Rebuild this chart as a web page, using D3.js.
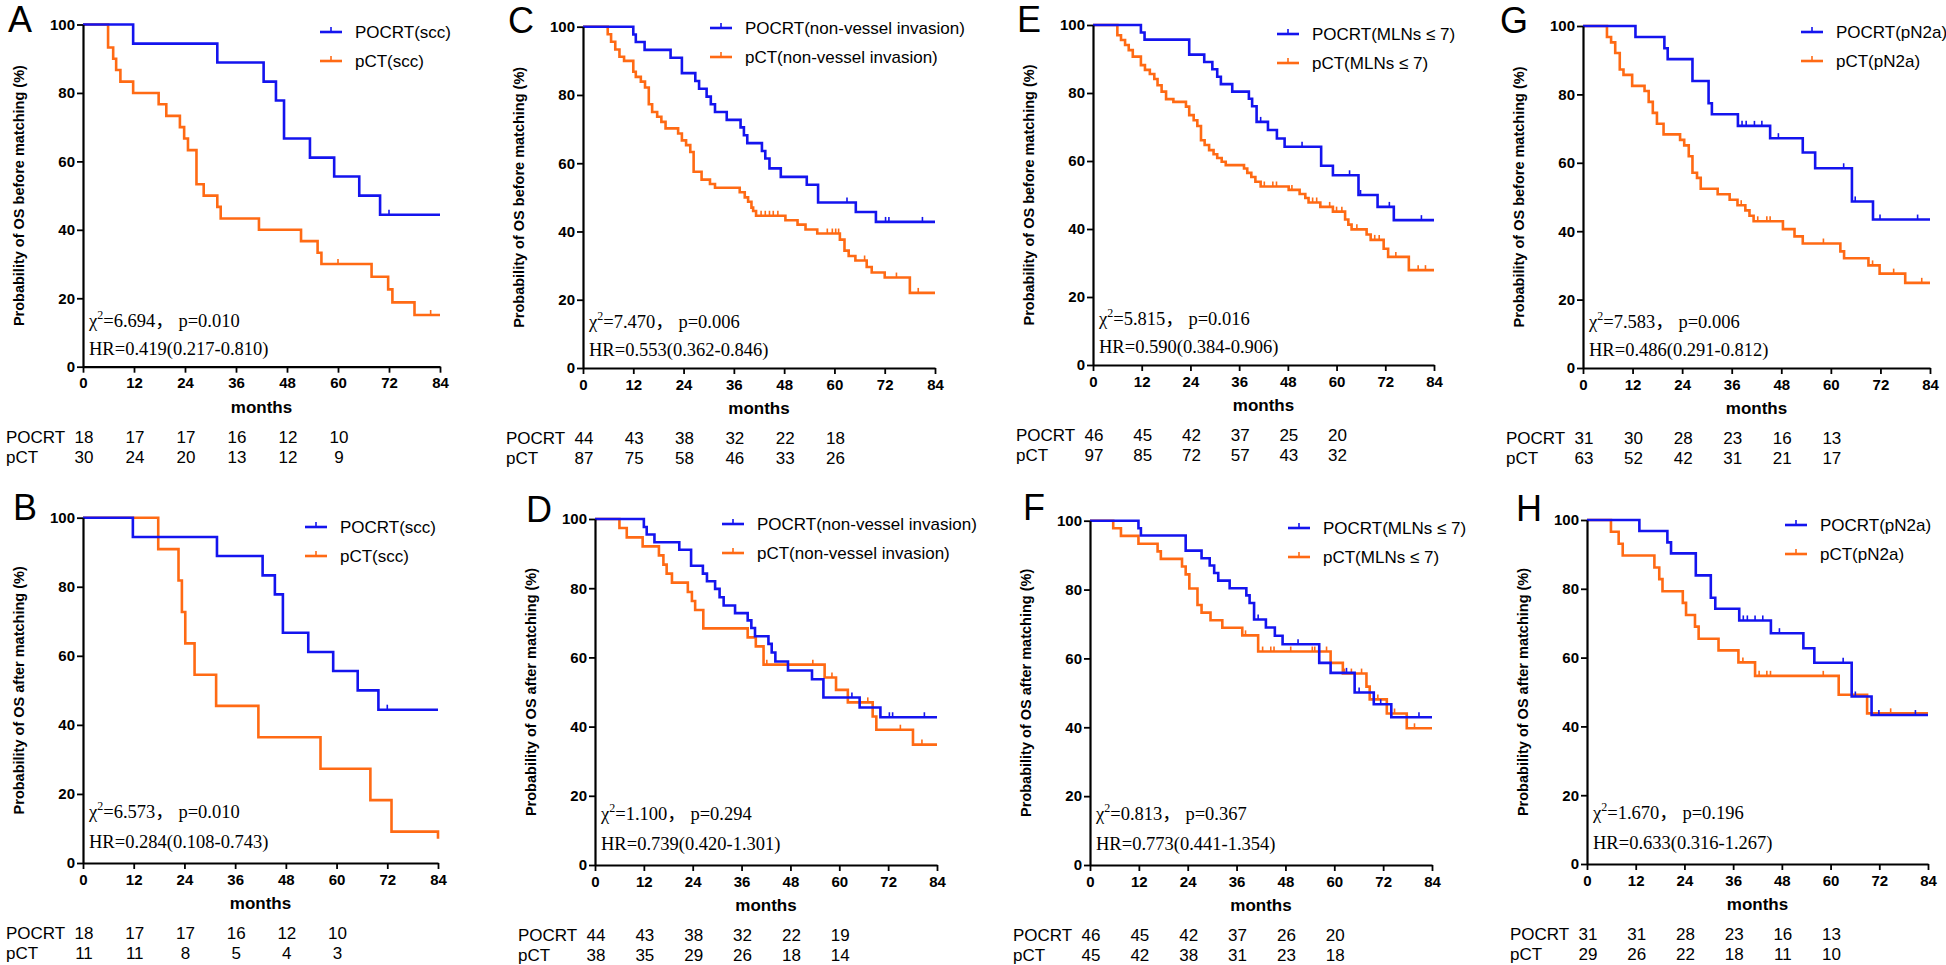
<!DOCTYPE html>
<html>
<head>
<meta charset="utf-8">
<script src="https://cdn.jsdelivr.net/npm/d3@7/dist/d3.min.js"></script>
<style>
  body { margin: 0; background: #fff; }
  svg { display: block; }
  text { white-space: pre; }
</style>
</head>
<body>
<div id="chart"></div>
<script>
// tick labels and risk table times
const monthTicks = [0, 12, 24, 36, 48, 60, 72, 84];
const probTicks = [0, 20, 40, 60, 80, 100];
const riskTimes = [0, 12, 24, 36, 48, 60];

// KM steps: [month, survival % after the drop]; censor times in months
const aPocrt = [[11.8, 94.4], [31.6, 88.9], [42.5, 83.3], [45.4, 77.8], [47.3, 66.7], [53.4, 61.1], [59.1, 55.6], [65, 50], [69.9, 44.4]];
const aPocrtCens = [72];
const aPct = [[5.9, 93.3], [7.1, 90], [7.8, 86.7], [8.8, 83.3], [11.8, 80], [17.8, 76.7], [19.6, 73.3], [22.8, 70], [23.8, 66.7], [24.7, 63.3], [26.7, 53.3], [28.4, 50], [31.6, 46.7], [32.4, 43.3], [41.4, 40], [51.3, 36.7], [55.2, 33.3], [56.1, 30], [67.9, 26.3], [71.8, 22.6], [72.8, 18.8], [78, 15.1]];
const aPctCens = [60, 81.8];

const bPocrt = [[11.8, 94.4], [31.7, 88.9], [42.5, 83.3], [45.4, 77.8], [47.3, 66.7], [53.3, 61.1], [59.2, 55.6], [65, 50], [69.9, 44.4]];
const bPocrtCens = [72];
const bPct = [[17.8, 90.9], [22.6, 81.8], [23.4, 72.7], [24.2, 63.6], [26.4, 54.5], [31.5, 45.5], [41.5, 36.4], [56.2, 27.3], [68, 18.2], [73, 9.1], [84, 7]];
const bPctCens = [];

const cPocrt = [[12, 97.7], [12.6, 95.5], [14.7, 93.2], [20.9, 90.9], [23.6, 86.4], [26.8, 84.1], [27.7, 81.8], [29.5, 79.5], [30.5, 77.3], [31.5, 75], [34.3, 72.7], [37.6, 70.5], [38.4, 68.2], [39.2, 65.9], [42.7, 63.6], [43.5, 61.4], [44.5, 58.5], [47.2, 56], [53.4, 53.7], [56.1, 48.5], [65.1, 45.7], [69.9, 42.8]];
const cPocrtCens = [63, 72.2, 73, 81];
const cPct = [[5.9, 97.8], [6.7, 95.6], [7.7, 93.3], [8.7, 91.2], [9.8, 90], [12, 86.8], [12.6, 85.3], [13.8, 83.9], [14.8, 82.2], [15.7, 77.3], [16.5, 75], [17.7, 73.6], [18.7, 72.1], [19.7, 70.2], [22.7, 68.7], [23.6, 66.7], [24.6, 65.3], [25.6, 63.3], [26.4, 57.5], [28.3, 55.2], [30.3, 53.9], [31.5, 52.8], [37.4, 51.5], [38.6, 50], [39.4, 48.7], [40.2, 47], [40.6, 46], [41.3, 44.6], [48.3, 43.3], [51.2, 42], [53.1, 40.6], [55.9, 39.4], [61.3, 37.6], [62.4, 34.4], [63.4, 32.8], [65, 31.5], [67.7, 29.6], [68.9, 28], [72, 26.5], [78, 22]];
const cPctCens = [42.5, 43.5, 44.5, 45.4, 46.5, 58.3, 59.5, 60.3, 61, 67.2, 74.8, 80];

const dPocrt = [[12, 97.7], [12.7, 95.5], [14.6, 93.3], [20.7, 91.1], [23.6, 86.5], [26.5, 84.2], [27.5, 82], [29.5, 79.8], [30.6, 77.4], [31.6, 75], [34.4, 72.8], [37.5, 70.7], [38.4, 68.5], [39.3, 66.1], [42.6, 63.9], [43.4, 61.4], [44.3, 58.8], [47.4, 56.2], [53.3, 53.7], [56.1, 48.4], [65, 45.5], [70.1, 42.7]];
const dPocrtCens = [63.1, 72.3, 73.1, 80.9];
const dPct = [[6, 97.4], [7.8, 94.7], [11.7, 92.1], [15.7, 89.5], [16.8, 86.8], [17.6, 84.2], [18.9, 81.6], [22.8, 78.9], [23.8, 76.3], [24.6, 73.7], [26.6, 68.4], [37.5, 65.8], [39.5, 63.2], [41.4, 57.9], [56.4, 54.2], [59.2, 50.6], [62.1, 47], [68.2, 42.9], [69.1, 39.1], [78.1, 34.8]];
const dPctCens = [42.2, 53.5, 58.2, 67, 75, 80.3];

const ePocrt = [[11.8, 97.8], [12.7, 95.7], [23.7, 91.3], [27.4, 89.1], [29.4, 87], [30.6, 84.8], [31.5, 82.6], [34.3, 80.4], [38.4, 78.3], [39.2, 76.1], [40.3, 71.5], [43.1, 69.1], [45.3, 66.6], [47.2, 64.2], [56.2, 58.6], [59.1, 55.8], [65.4, 50], [70.1, 46.5], [74.1, 42.6]];
const ePocrtCens = [41.3, 51.5, 63.2, 65.9, 73, 80.9];
const ePct = [[6, 97], [6.9, 95.6], [7.9, 94.1], [8.8, 92.6], [9.8, 90.7], [11.8, 88.2], [12.8, 86.8], [14, 85.6], [15.1, 84.1], [15.9, 82.3], [16.9, 80.4], [18, 78.2], [19.8, 77.4], [22.9, 76], [23.7, 73.5], [24.8, 72], [25.7, 70.3], [26.6, 66.1], [27.5, 64.7], [28.6, 63.2], [29.7, 62], [30.6, 60.9], [31.7, 59.8], [32.7, 58.8], [37.2, 57.8], [38, 56.5], [39, 55.3], [40, 53.9], [41.3, 52.5], [48.2, 51.5], [50.9, 50.3], [52.3, 49.1], [53.1, 47.8], [56, 46.5], [59.1, 45.1], [62.1, 42.8], [62.9, 41.3], [63.7, 39.9], [67.4, 38.4], [68.4, 36.8], [71.6, 34.2], [72.7, 31.8], [77.8, 27.9]];
const ePctCens = [42.2, 44.3, 45.2, 49, 54.1, 55.1, 58.3, 60, 61.3, 65, 69.4, 70.5, 74.6, 80.1, 81.9];

const fPocrt = [[11.9, 97.8], [12.5, 95.7], [23.5, 91.3], [27.4, 89.1], [29.4, 87], [30.5, 84.8], [31.5, 82.6], [34.3, 80.4], [38.4, 78.3], [39.2, 76.1], [40.3, 71.3], [43.2, 69], [45.4, 66.6], [47.3, 64.1], [56.3, 58.7], [59.1, 55.8], [65, 50.1], [69.7, 46.7], [74, 42.9]];
const fPocrtCens = [41.3, 51.1, 63, 66.1, 71.4, 80.8];
const fPct = [[5.7, 97.8], [7.6, 95.6], [11.9, 93.3], [16.6, 91.1], [17.4, 88.9], [22.6, 86.7], [23.5, 84.4], [24.4, 80.3], [26.4, 75.5], [27.4, 73.3], [29.6, 71.1], [32.5, 68.9], [37.4, 66.7], [41.3, 62], [59.1, 58.7], [62.1, 55.6], [67.9, 51.8], [68.7, 48.1], [72.9, 44], [77.8, 39.7]];
const fPctCens = [38.2, 42.4, 44.4, 45.2, 49.3, 54.6, 55.2, 58.1, 62.5, 64.2, 66.7, 70.7, 74.8, 79.7];

const gPocrt = [[12.7, 96.8], [19.7, 93.5], [20.5, 90.3], [26.5, 83.9], [30.4, 77.4], [31.2, 74.2], [37.5, 70.8], [45.3, 67.2], [53.2, 63], [56.2, 58.4], [65.1, 48.7], [70.2, 43.4]];
const gPocrtCens = [38.5, 39.5, 41.5, 43.3, 47.3, 63.1, 65.9, 71.9, 81];
const gPct = [[5.8, 96.8], [6.8, 95.2], [7.8, 92.1], [8.9, 87.3], [9.8, 85.7], [11.9, 82.5], [14.9, 81], [15.9, 77.8], [16.9, 74.6], [17.9, 71.4], [19.5, 68.3], [23.5, 66.7], [24.5, 65.1], [25.6, 61.9], [26.5, 57.1], [27.6, 55.6], [28.5, 52.4], [32.6, 50.8], [35.5, 49.2], [37.4, 47.6], [39.3, 46.1], [40.3, 44.5], [41.3, 42.9], [48.4, 40.6], [51.2, 38.5], [53.2, 36.4], [62.3, 34.1], [63.2, 32.1], [69.1, 30], [71.8, 27.6], [78, 24.9]];
const gPctCens = [38.3, 42.3, 44.5, 45.3, 58.2, 70.1, 75.2, 82];

const hPocrt = [[12.9, 96.8], [19.8, 93.5], [20.7, 90.3], [26.8, 83.9], [30.5, 77.4], [31.6, 74.2], [37.5, 70.8], [45.3, 67.1], [53.3, 62.7], [56, 58.5], [65.2, 48.7], [70.1, 43.3]];
const hPocrtCens = [38.5, 39.5, 41.4, 43.3, 47.4, 63.1, 66.1, 71.9, 80.9];
const hPct = [[5.9, 96.6], [7.8, 93.1], [8.8, 89.7], [16.6, 86.2], [17.8, 82.8], [18.6, 79.3], [23.6, 75.9], [24.4, 72.4], [26.6, 69], [27.5, 65.5], [32.4, 62.1], [37.3, 58.6], [41.4, 54.7], [62, 49.2], [69, 43.8]];
const hPctCens = [38.4, 42.4, 44.3, 45.2, 58.2, 74.8];

// numbers at risk (POCRT row, pCT row)
const aRisk = [[18, 17, 17, 16, 12, 10], [30, 24, 20, 13, 12, 9]];
const bRisk = [[18, 17, 17, 16, 12, 10], [11, 11, 8, 5, 4, 3]];
const cRisk = [[44, 43, 38, 32, 22, 18], [87, 75, 58, 46, 33, 26]];
const dRisk = [[44, 43, 38, 32, 22, 19], [38, 35, 29, 26, 18, 14]];
const eRisk = [[46, 45, 42, 37, 25, 20], [97, 85, 72, 57, 43, 32]];
const fRisk = [[46, 45, 42, 37, 26, 20], [45, 42, 38, 31, 23, 18]];
const gRisk = [[31, 30, 28, 23, 16, 13], [63, 52, 42, 31, 21, 17]];
const hRisk = [[31, 31, 28, 23, 16, 13], [29, 26, 22, 18, 11, 10]];

// chi-square, p, HR(95% CI)
const aStats = ["6.694", "0.010", "0.419(0.217-0.810)"];
const bStats = ["6.573", "0.010", "0.284(0.108-0.743)"];
const cStats = ["7.470", "0.006", "0.553(0.362-0.846)"];
const dStats = ["1.100", "0.294", "0.739(0.420-1.301)"];
const eStats = ["5.815", "0.016", "0.590(0.384-0.906)"];
const fStats = ["0.813", "0.367", "0.773(0.441-1.354)"];
const gStats = ["7.583", "0.006", "0.486(0.291-0.812)"];
const hStats = ["1.670", "0.196", "0.633(0.316-1.267)"];

const subgroups = ["scc", "non-vessel invasion", "MLNs \u2264 7", "pN2a"];
const armNames = ["POCRT", "pCT"];
const yTitles = ["Probability of OS before matching (%)", "Probability of OS after matching (%)"];

const BLUE = "#1414ee";
const ORANGE = "#ff6a14";
const SANS = "'Liberation Sans', Arial, sans-serif";
const SERIF = "'Liberation Serif', 'Times New Roman', serif";

// layout of each panel (pixels)
const panels = [
  { id: "A", row: 0, g: 0, x0: 83, x1: 440, y100: 24.5, y0: 366.7, lx: 8, ly: 32, leg: [320, 32], pocrt: aPocrt, pocrtC: aPocrtCens, pct: aPct, pctC: aPctCens, risk: aRisk, stats: aStats },
  { id: "C", row: 0, g: 1, x0: 583, x1: 935, y100: 26.7, y0: 368, lx: 508, ly: 33, leg: [710, 28], pocrt: cPocrt, pocrtC: cPocrtCens, pct: cPct, pctC: cPctCens, risk: cRisk, stats: cStats },
  { id: "E", row: 0, g: 2, x0: 1093, x1: 1434, y100: 25, y0: 365, lx: 1017, ly: 32, leg: [1277, 34], pocrt: ePocrt, pocrtC: ePocrtCens, pct: ePct, pctC: ePctCens, risk: eRisk, stats: eStats },
  { id: "G", row: 0, g: 3, x0: 1583, x1: 1930, y100: 26, y0: 368, lx: 1500, ly: 33, leg: [1801, 32], pocrt: gPocrt, pocrtC: gPocrtCens, pct: gPct, pctC: gPctCens, risk: gRisk, stats: gStats },
  { id: "B", row: 1, g: 0, x0: 83, x1: 438, y100: 517.7, y0: 863, lx: 13, ly: 520, leg: [305, 527], pocrt: bPocrt, pocrtC: bPocrtCens, pct: bPct, pctC: bPctCens, risk: bRisk, stats: bStats },
  { id: "D", row: 1, g: 1, x0: 595, x1: 937, y100: 519, y0: 865, lx: 526, ly: 522, leg: [722, 524], pocrt: dPocrt, pocrtC: dPocrtCens, pct: dPct, pctC: dPctCens, risk: dRisk, stats: dStats },
  { id: "F", row: 1, g: 2, x0: 1090, x1: 1432, y100: 520.7, y0: 865, lx: 1023, ly: 520, leg: [1288, 528], pocrt: fPocrt, pocrtC: fPocrtCens, pct: fPct, pctC: fPctCens, risk: fRisk, stats: fStats },
  { id: "H", row: 1, g: 3, x0: 1587, x1: 1928, y100: 520, y0: 864, lx: 1516, ly: 521, leg: [1785, 525], pocrt: hPocrt, pocrtC: hPocrtCens, pct: hPct, pctC: hPctCens, risk: hRisk, stats: hStats },
];

const svg = d3.select("#chart").append("svg")
  .attr("width", 1946).attr("height", 965)
  .style("background", "#fff");

function survivalAt(steps, t) {
  let s = 100;
  steps.forEach(([tt, v]) => { if (tt <= t) s = v; });
  return s;
}

panels.forEach((p) => {
  const x = d3.scaleLinear().domain([0, 84]).range([p.x0, p.x1]);
  const y = d3.scaleLinear().domain([0, 100]).range([p.y0, p.y100]);
  const g = svg.append("g");

  // panel letter
  g.append("text").attr("x", p.lx).attr("y", p.ly)
    .attr("font-family", SANS).attr("font-size", 36).text(p.id);

  // y title
  g.append("text")
    .attr("transform", `translate(${p.x0 - 59},${(p.y0 + p.y100) / 2}) rotate(-90)`)
    .attr("text-anchor", "middle")
    .attr("font-family", SANS).attr("font-size", 14.5).attr("font-weight", "bold")
    .text(yTitles[p.row]);

  // curves
  const line = d3.line().x((d) => x(d[0])).y((d) => y(d[1])).curve(d3.curveStepAfter);
  [[p.pct, p.pctC, ORANGE], [p.pocrt, p.pocrtC, BLUE]].forEach(([steps, cens, color]) => {
    const last = steps.length ? steps[steps.length - 1][1] : 100;
    const pts = [[0, 100], ...steps, [84, last]];
    g.append("path").attr("d", line(pts))
      .attr("fill", "none").attr("stroke", color).attr("stroke-width", 2.6);
    g.selectAll(null).data(cens).enter().append("line")
      .attr("x1", (c) => x(c)).attr("x2", (c) => x(c))
      .attr("y1", (c) => y(survivalAt(steps, c)))
      .attr("y2", (c) => y(survivalAt(steps, c)) - 5)
      .attr("stroke", color).attr("stroke-width", 1.6);
  });

  // axes
  const yAxis = g.append("g").attr("transform", `translate(${p.x0},0)`)
    .call(d3.axisLeft(y).tickValues(probTicks).tickSize(6).tickSizeOuter(0).tickPadding(2));
  const xAxis = g.append("g").attr("transform", `translate(0,${p.y0})`)
    .call(d3.axisBottom(x).tickValues(monthTicks).tickSize(6).tickSizeOuter(0).tickPadding(5));
  [yAxis, xAxis].forEach((ax) => {
    ax.select(".domain").attr("stroke", "#000").attr("stroke-width", 2.2);
    ax.selectAll(".tick line").attr("stroke", "#000").attr("stroke-width", 1.8);
    ax.selectAll(".tick text").attr("fill", "#000")
      .attr("font-family", SANS).attr("font-size", 15).attr("font-weight", "bold");
  });

  g.append("text").attr("x", (p.x0 + p.x1) / 2).attr("y", p.y0 + 46)
    .attr("text-anchor", "middle")
    .attr("font-family", SANS).attr("font-size", 17).attr("font-weight", "bold")
    .text("months");

  // statistics
  const chi = g.append("text").attr("x", p.x0 + 6).attr("y", p.y0 - 40 - p.row * 5)
    .attr("font-family", SERIF).attr("font-size", 18.5);
  chi.append("tspan").text("\u03c7");
  chi.append("tspan").attr("font-size", 12).attr("dy", -8).text("2");
  chi.append("tspan").attr("dy", 8).text(`=${p.stats[0]}`);
  chi.append("tspan").attr("font-family", "'Noto Sans CJK SC'").text("\uff0c");
  chi.append("tspan").text(` p=${p.stats[1]}`);
  g.append("text").attr("x", p.x0 + 6).attr("y", p.y0 - 12 - p.row * 3)
    .attr("font-family", SERIF).attr("font-size", 18.5)
    .text(`HR=${p.stats[2]}`);

  // legend
  armNames.forEach((arm, i) => {
    const ly = p.leg[1] + i * 29;
    const color = i === 0 ? BLUE : ORANGE;
    g.append("line").attr("x1", p.leg[0]).attr("x2", p.leg[0] + 22)
      .attr("y1", ly).attr("y2", ly).attr("stroke", color).attr("stroke-width", 2.6);
    g.append("line").attr("x1", p.leg[0] + 11).attr("x2", p.leg[0] + 11)
      .attr("y1", ly).attr("y2", ly - 5).attr("stroke", color).attr("stroke-width", 1.6);
    g.append("text").attr("x", p.leg[0] + 35).attr("y", ly + 6)
      .attr("font-family", SANS).attr("font-size", 17)
      .text(`${arm}(${subgroups[p.g]})`);
  });

  // numbers at risk
  const ry = p.y0 + 76;
  armNames.forEach((arm, i) => {
    g.append("text").attr("x", p.x0 - 77).attr("y", ry + i * 20)
      .attr("font-family", SANS).attr("font-size", 17).text(arm);
    g.selectAll(null).data(p.risk[i]).enter().append("text")
      .attr("x", (d, k) => x(riskTimes[k]) + 1).attr("y", ry + i * 20)
      .attr("text-anchor", "middle")
      .attr("font-family", SANS).attr("font-size", 17).text((d) => d);
  });
});
</script>
</body>
</html>
